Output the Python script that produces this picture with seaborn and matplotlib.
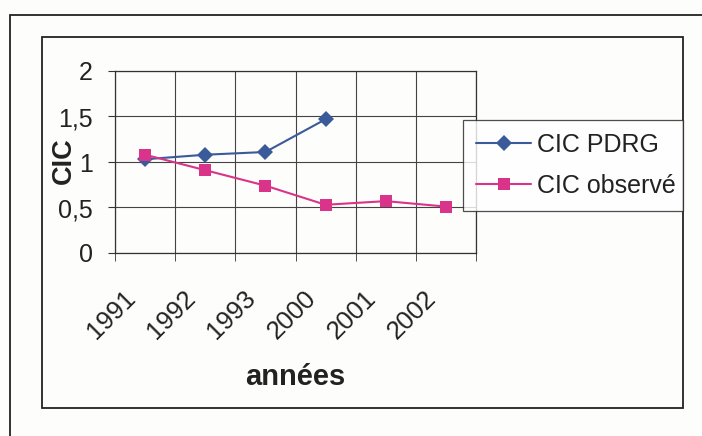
import matplotlib

matplotlib.use("Agg")

import matplotlib.pyplot as plt
import matplotlib.transforms as mtransforms
import pandas as pd
import seaborn as sns
from matplotlib.patches import Rectangle

years = ["1991", "1992", "1993", "2000", "2001", "2002"]
cic_pdrg = [1.03, 1.08, 1.11, 1.47, None, None]
cic_observe = [1.08, 0.91, 0.74, 0.53, 0.57, 0.51]
y_ticks = [0, 0.5, 1, 1.5, 2]
y_tick_labels = ["0", "0,5", "1", "1,5", "2"]

W, H = 702, 436
TXT = "#222222"


def fx(px):
    return px / W


def fy(py):
    return 1 - py / H


sns.set_style("white")
plt.rcParams["font.family"] = ["Liberation Sans", "DejaVu Sans"]

fig = plt.figure(figsize=(W / 100, H / 100), dpi=100)
fig.patch.set_facecolor("#fdfdfb")

# outer and inner chart frames (Excel style)
fig.add_artist(Rectangle((fx(10), fy(450)), fx(720) - fx(10), fy(15) - fy(450),
                         transform=fig.transFigure, fill=False, ec=TXT, lw=1.3))
fig.add_artist(Rectangle((fx(42), fy(408)), fx(683) - fx(42), fy(37) - fy(408),
                         transform=fig.transFigure, fill=False, ec=TXT, lw=1.3))

ax = fig.add_axes([fx(115), fy(253), fx(476) - fx(115), fy(71) - fy(253)])
ax.set_facecolor("none")

df = pd.DataFrame({"année": years, "CIC PDRG": cic_pdrg, "CIC observé": cic_observe})
long = df.melt(id_vars="année", var_name="série", value_name="CIC").dropna()

sns.lineplot(data=long, x="année", y="CIC", hue="série", style="série",
             markers={"CIC PDRG": "D", "CIC observé": "s"}, dashes=False,
             palette={"CIC PDRG": "#3a5a9a", "CIC observé": "#d9348a"},
             markersize=9, markeredgewidth=0, linewidth=1.5, sort=False, ax=ax)
for line in ax.lines:
    if line.get_marker() == "D":
        line.set_markersize(8.5)

ax.set_xlim(-0.5, len(years) - 0.5)
ax.set_ylim(0, 2)
ax.set_yticks(y_ticks)
ax.set_yticklabels(y_tick_labels, fontsize=18, color=TXT)
ax.set_xticks(range(len(years)))
ax.set_xticklabels(years, fontsize=18.5, color=TXT, rotation=45, ha="right",
                   va="top", rotation_mode="anchor")
ax.set_xticks([i - 0.5 for i in range(len(years) + 1)], minor=True)
ax.tick_params(axis="x", which="major", length=0, pad=24)
ax.tick_params(axis="x", which="minor", length=6, color="#333333", bottom=True)
ax.tick_params(axis="y", length=5, color="#333333", left=True, pad=11)

ax.grid(False)
for v in y_ticks:
    ax.axhline(v, color="#444444", lw=0.8, zorder=0)
for i in range(len(years) + 1):
    ax.axvline(i - 0.5, color="#444444", lw=0.8, zorder=0)
for s in ax.spines.values():
    s.set_color("#333333")
    s.set_linewidth(0.9)

ax.set_xlabel("")
ax.set_ylabel("")
fig.text(fx(295), fy(385), "années", fontsize=21, fontweight="bold",
         ha="center", va="baseline", color=TXT)
fig.text(fx(64), fy(161), "CIC", fontsize=19.5, fontweight="bold", rotation=90,
         ha="center", va="center", color=TXT)

handles, labels = ax.get_legend_handles_labels()
ax.get_legend().remove()
leg = fig.legend(handles, labels, loc="upper left",
                 bbox_to_anchor=(fx(463), fy(120), fx(683) - fx(463), 0),
                 bbox_transform=fig.transFigure, mode="expand", fontsize=18,
                 frameon=True, fancybox=False, edgecolor=TXT, handlelength=2.2,
                 handletextpad=0.25, borderaxespad=0, labelspacing=0.68,
                 borderpad=0.52)
leg.get_frame().set_linewidth(0.9)
leg.get_frame().set_facecolor("white")
for t in leg.get_texts():
    t.set_color(TXT)

# shift rotated year labels so their ends sit left of the category centre
shift = mtransforms.ScaledTranslation(-22 / 100, 0, fig.dpi_scale_trans)
for lab in ax.get_xticklabels():
    lab.set_transform(lab.get_transform() + shift)

fig.savefig("out.png", dpi=100, facecolor=fig.get_facecolor())
